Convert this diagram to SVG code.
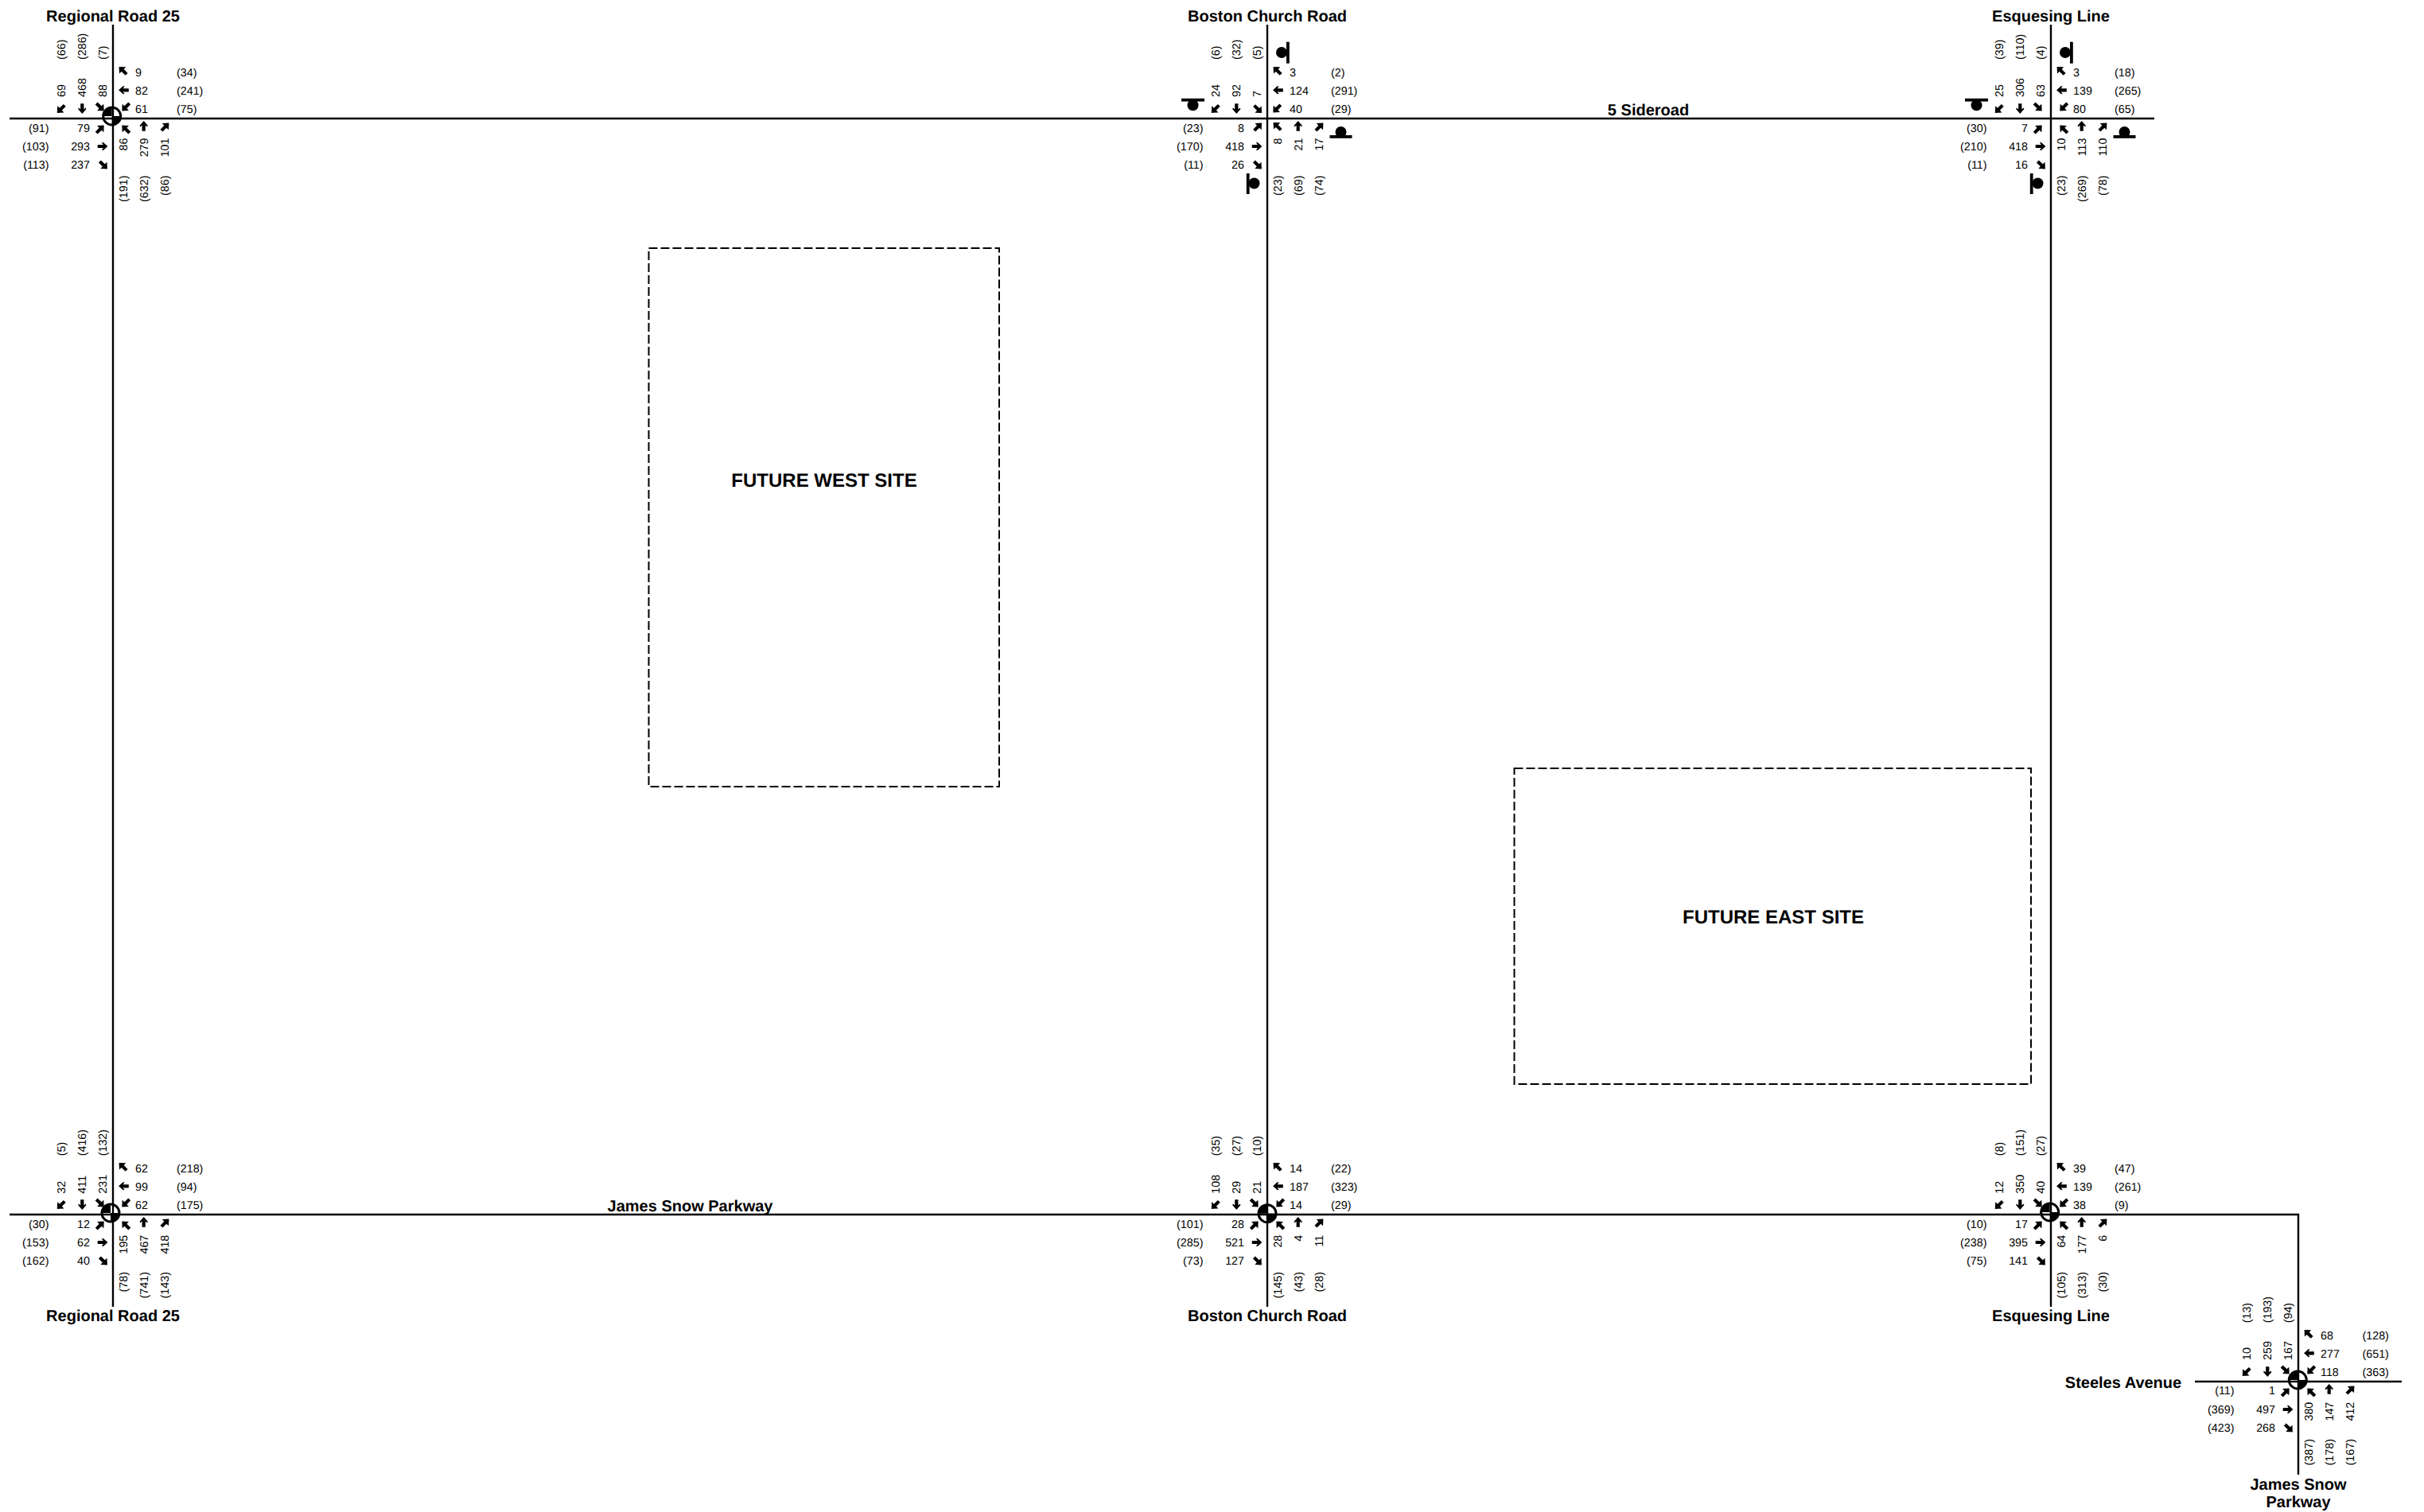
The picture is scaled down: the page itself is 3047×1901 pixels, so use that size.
<svg xmlns="http://www.w3.org/2000/svg" width="3047" height="1901" viewBox="0 0 3047 1901">
<style>
text{font-family:"Liberation Sans",Arial,sans-serif;fill:#000;text-rendering:geometricPrecision}
.t{font-size:14.3px;opacity:.999}
.e{text-anchor:end}
.b{font-size:20px;font-weight:bold;text-anchor:middle}
.h{font-size:24px;font-weight:bold;text-anchor:middle}
.road{stroke:#000;stroke-width:2.4;fill:none}
.site{stroke:#000;stroke-width:2;fill:none;stroke-dasharray:11 4}
.bk{fill:#000}
</style>
<defs>
<path id="up" d="M0,-6.4L5,-0.8L4.7,1.1L2.1,-0.8L2.1,6.3L-2.1,6.3L-2.1,-0.8L-4.7,1.1L-5,-0.8Z"/>
<path id="dg" d="M5.4,-5.4L5,3.2L2.3,0.7L-2.6,5.6L-5.5,2.7L-0.7,-2.3L-3.2,-5Z"/>
<use id="aN" href="#up"/>
<use id="aNE" href="#dg"/>
<use id="aE" href="#up" transform="rotate(90)"/>
<use id="aSE" href="#dg" transform="rotate(90)"/>
<use id="aS" href="#up" transform="rotate(180)"/>
<use id="aSW" href="#dg" transform="rotate(180)"/>
<use id="aW" href="#up" transform="rotate(270)"/>
<use id="aNW" href="#dg" transform="rotate(270)"/>
<g id="arrowsCommon">
<use href="#aNW" x="13" y="-59.7"/><use href="#aW" x="13.5" y="-35.7"/>
<use href="#aSW" x="-64.8" y="-12.5"/><use href="#aS" x="-38.7" y="-12.5"/>
<use href="#aE" x="-13" y="35"/><use href="#aSE" x="-12.5" y="58"/>
<use href="#aN" x="38.7" y="9.5"/><use href="#aNE" x="65" y="11"/>
</g>
<g id="arrowsWide">
<use href="#arrowsCommon"/>
<use href="#aSW" x="16.7" y="-15"/><use href="#aSE" x="-16.7" y="-15"/>
<use href="#aNE" x="-16.7" y="14"/><use href="#aNW" x="16.7" y="14"/>
</g>
<g id="arrowsTight">
<use href="#arrowsCommon"/>
<use href="#aSW" x="12.7" y="-13"/><use href="#aSE" x="-12.3" y="-12.3"/>
<use href="#aNE" x="-12.3" y="11"/><use href="#aNW" x="13" y="10.3"/>
</g>
<g id="signal">
<circle r="11" fill="none" stroke="#000" stroke-width="3"/>
<path class="bk" d="M0,0L-11,0A11,11 0 0 1 0,-11ZM0,0L11,0A11,11 0 0 1 0,11Z"/>
</g>
<g id="stops" class="bk">
<circle cx="18" cy="-83" r="7"/><rect x="24" y="-96.3" width="3.8" height="27"/>
<circle cx="-93.5" cy="-16.7" r="7"/><rect x="-108" y="-25.2" width="29" height="3.8"/>
<circle cx="92.5" cy="17" r="7"/><rect x="78.5" y="21" width="28" height="3.8"/>
<circle cx="-16.5" cy="81.5" r="7"/><rect x="-26.2" y="69" width="3.8" height="26"/>
</g>
</defs>
<rect width="3047" height="1901" fill="#fff"/>
<g id="connectors">
<path class="road" d="M142,31V1643M1593,31V1643M2578,31V1643M12,149H2708M12,1527H2889V1854M2759,1737H3019"/>
</g>
<g id="site-west"><rect class="site" x="815.5" y="312" width="440.5" height="677"/><text class="h" x="1036" y="611.5">FUTURE WEST SITE</text></g>
<g id="site-east"><rect class="site" x="1903.5" y="966" width="649.5" height="397"/><text class="h" x="2229" y="1160.5">FUTURE EAST SITE</text></g>
<g id="road-labels">
<text class="b" x="2072" y="145">5 Sideroad</text>
<text class="b" x="867.5" y="1523">James Snow Parkway</text>
<text class="b" x="2669" y="1744.5">Steeles Avenue</text>
</g>

<g id="int-rr25-5sr" transform="translate(142,149)">
<text class="b" x="0" y="-122">Regional Road 25</text>
<use href="#arrowsWide"/><use href="#signal" x="-1.3" y="-3"/>
<g class="t">
<text transform="translate(-60,-74) rotate(-90)">(66)</text><text transform="translate(-34,-74) rotate(-90)">(286)</text><text transform="translate(-8,-74) rotate(-90)">(7)</text>
<text transform="translate(-60,-27) rotate(-90)">69</text><text transform="translate(-34,-27) rotate(-90)">468</text><text transform="translate(-8,-27) rotate(-90)">88</text>
<text x="28" y="-53.5">9</text><text x="80" y="-53.5">(34)</text><text x="28" y="-30.5">82</text><text x="80" y="-30.5">(241)</text><text x="28" y="-7">61</text><text x="80" y="-7">(75)</text>
<text class="e" x="-80.5" y="16.7">(91)</text><text class="e" x="-29" y="16.7">79</text><text class="e" x="-80.5" y="39.7">(103)</text><text class="e" x="-29" y="39.7">293</text><text class="e" x="-80.5" y="63">(113)</text><text class="e" x="-29" y="63">237</text>
<text class="e" transform="translate(17.5,24.5) rotate(-90)">86</text><text class="e" transform="translate(43.5,24.5) rotate(-90)">279</text><text class="e" transform="translate(69.5,24.5) rotate(-90)">101</text>
<text class="e" transform="translate(17.5,71.5) rotate(-90)">(191)</text><text class="e" transform="translate(43.5,71.5) rotate(-90)">(632)</text><text class="e" transform="translate(69.5,71.5) rotate(-90)">(86)</text>
</g>
</g>

<g id="int-bc-5sr" transform="translate(1593,149)">
<text class="b" x="0" y="-122">Boston Church Road</text>
<use href="#arrowsTight"/><use href="#stops"/>
<g class="t">
<text transform="translate(-60,-74) rotate(-90)">(6)</text><text transform="translate(-34,-74) rotate(-90)">(32)</text><text transform="translate(-8,-74) rotate(-90)">(5)</text>
<text transform="translate(-60,-27) rotate(-90)">24</text><text transform="translate(-34,-27) rotate(-90)">92</text><text transform="translate(-8,-27) rotate(-90)">7</text>
<text x="28" y="-53.5">3</text><text x="80" y="-53.5">(2)</text><text x="28" y="-30.5">124</text><text x="80" y="-30.5">(291)</text><text x="28" y="-7">40</text><text x="80" y="-7">(29)</text>
<text class="e" x="-80.5" y="16.7">(23)</text><text class="e" x="-29" y="16.7">8</text><text class="e" x="-80.5" y="39.7">(170)</text><text class="e" x="-29" y="39.7">418</text><text class="e" x="-80.5" y="63">(11)</text><text class="e" x="-29" y="63">26</text>
<text class="e" transform="translate(17.5,24.5) rotate(-90)">8</text><text class="e" transform="translate(43.5,24.5) rotate(-90)">21</text><text class="e" transform="translate(69.5,24.5) rotate(-90)">17</text>
<text class="e" transform="translate(17.5,71.5) rotate(-90)">(23)</text><text class="e" transform="translate(43.5,71.5) rotate(-90)">(69)</text><text class="e" transform="translate(69.5,71.5) rotate(-90)">(74)</text>
</g>
</g>

<g id="int-esq-5sr" transform="translate(2578,149)">
<text class="b" x="0" y="-122">Esquesing Line</text>
<use href="#arrowsWide"/><use href="#stops"/>
<g class="t">
<text transform="translate(-60,-74) rotate(-90)">(39)</text><text transform="translate(-34,-74) rotate(-90)">(110)</text><text transform="translate(-8,-74) rotate(-90)">(4)</text>
<text transform="translate(-60,-27) rotate(-90)">25</text><text transform="translate(-34,-27) rotate(-90)">306</text><text transform="translate(-8,-27) rotate(-90)">63</text>
<text x="28" y="-53.5">3</text><text x="80" y="-53.5">(18)</text><text x="28" y="-30.5">139</text><text x="80" y="-30.5">(265)</text><text x="28" y="-7">80</text><text x="80" y="-7">(65)</text>
<text class="e" x="-80.5" y="16.7">(30)</text><text class="e" x="-29" y="16.7">7</text><text class="e" x="-80.5" y="39.7">(210)</text><text class="e" x="-29" y="39.7">418</text><text class="e" x="-80.5" y="63">(11)</text><text class="e" x="-29" y="63">16</text>
<text class="e" transform="translate(17.5,24.5) rotate(-90)">10</text><text class="e" transform="translate(43.5,24.5) rotate(-90)">113</text><text class="e" transform="translate(69.5,24.5) rotate(-90)">110</text>
<text class="e" transform="translate(17.5,71.5) rotate(-90)">(23)</text><text class="e" transform="translate(43.5,71.5) rotate(-90)">(269)</text><text class="e" transform="translate(69.5,71.5) rotate(-90)">(78)</text>
</g>
</g>

<g id="int-rr25-jsp" transform="translate(142,1527)">
<text class="b" x="0" y="134">Regional Road 25</text>
<use href="#arrowsWide"/><use href="#signal" x="-3" y="-2"/>
<g class="t">
<text transform="translate(-60,-73.7) rotate(-90)">(5)</text><text transform="translate(-34,-73.7) rotate(-90)">(416)</text><text transform="translate(-8,-73.7) rotate(-90)">(132)</text>
<text transform="translate(-60,-26.3) rotate(-90)">32</text><text transform="translate(-34,-26.3) rotate(-90)">411</text><text transform="translate(-8,-26.3) rotate(-90)">231</text>
<text x="28" y="-53.5">62</text><text x="80" y="-53.5">(218)</text><text x="28" y="-30.5">99</text><text x="80" y="-30.5">(94)</text><text x="28" y="-7">62</text><text x="80" y="-7">(175)</text>
<text class="e" x="-80.5" y="16.7">(30)</text><text class="e" x="-29" y="16.7">12</text><text class="e" x="-80.5" y="39.7">(153)</text><text class="e" x="-29" y="39.7">62</text><text class="e" x="-80.5" y="63">(162)</text><text class="e" x="-29" y="63">40</text>
<text class="e" transform="translate(17.5,25.7) rotate(-90)">195</text><text class="e" transform="translate(43.5,25.7) rotate(-90)">467</text><text class="e" transform="translate(69.5,25.7) rotate(-90)">418</text>
<text class="e" transform="translate(17.5,72) rotate(-90)">(78)</text><text class="e" transform="translate(43.5,72) rotate(-90)">(741)</text><text class="e" transform="translate(69.5,72) rotate(-90)">(143)</text>
</g>
</g>

<g id="int-bc-jsp" transform="translate(1593,1527)">
<text class="b" x="0" y="134">Boston Church Road</text>
<use href="#arrowsWide"/><use href="#signal" x="0" y="-1.3"/>
<g class="t">
<text transform="translate(-60,-73.7) rotate(-90)">(35)</text><text transform="translate(-34,-73.7) rotate(-90)">(27)</text><text transform="translate(-8,-73.7) rotate(-90)">(10)</text>
<text transform="translate(-60,-26.3) rotate(-90)">108</text><text transform="translate(-34,-26.3) rotate(-90)">29</text><text transform="translate(-8,-26.3) rotate(-90)">21</text>
<text x="28" y="-53.5">14</text><text x="80" y="-53.5">(22)</text><text x="28" y="-30.5">187</text><text x="80" y="-30.5">(323)</text><text x="28" y="-7">14</text><text x="80" y="-7">(29)</text>
<text class="e" x="-80.5" y="16.7">(101)</text><text class="e" x="-29" y="16.7">28</text><text class="e" x="-80.5" y="39.7">(285)</text><text class="e" x="-29" y="39.7">521</text><text class="e" x="-80.5" y="63">(73)</text><text class="e" x="-29" y="63">127</text>
<text class="e" transform="translate(17.5,25.7) rotate(-90)">28</text><text class="e" transform="translate(43.5,25.7) rotate(-90)">4</text><text class="e" transform="translate(69.5,25.7) rotate(-90)">11</text>
<text class="e" transform="translate(17.5,72) rotate(-90)">(145)</text><text class="e" transform="translate(43.5,72) rotate(-90)">(43)</text><text class="e" transform="translate(69.5,72) rotate(-90)">(28)</text>
</g>
</g>

<g id="int-esq-jsp" transform="translate(2578,1527)">
<text class="b" x="0" y="134">Esquesing Line</text>
<use href="#arrowsWide"/><use href="#signal" x="-1.3" y="-3"/>
<g class="t">
<text transform="translate(-60,-73.7) rotate(-90)">(8)</text><text transform="translate(-34,-73.7) rotate(-90)">(151)</text><text transform="translate(-8,-73.7) rotate(-90)">(27)</text>
<text transform="translate(-60,-26.3) rotate(-90)">12</text><text transform="translate(-34,-26.3) rotate(-90)">350</text><text transform="translate(-8,-26.3) rotate(-90)">40</text>
<text x="28" y="-53.5">39</text><text x="80" y="-53.5">(47)</text><text x="28" y="-30.5">139</text><text x="80" y="-30.5">(261)</text><text x="28" y="-7">38</text><text x="80" y="-7">(9)</text>
<text class="e" x="-80.5" y="16.7">(10)</text><text class="e" x="-29" y="16.7">17</text><text class="e" x="-80.5" y="39.7">(238)</text><text class="e" x="-29" y="39.7">395</text><text class="e" x="-80.5" y="63">(75)</text><text class="e" x="-29" y="63">141</text>
<text class="e" transform="translate(17.5,25.7) rotate(-90)">64</text><text class="e" transform="translate(43.5,25.7) rotate(-90)">177</text><text class="e" transform="translate(69.5,25.7) rotate(-90)">6</text>
<text class="e" transform="translate(17.5,72) rotate(-90)">(105)</text><text class="e" transform="translate(43.5,72) rotate(-90)">(313)</text><text class="e" transform="translate(69.5,72) rotate(-90)">(30)</text>
</g>
</g>

<g id="int-jsp-steeles" transform="translate(2889,1737)">
<text class="b" x="0" y="135.5">James Snow</text><text class="b" x="0" y="158">Parkway</text>
<use href="#arrowsWide"/><use href="#signal" x="-0.7" y="-2"/>
<g class="t">
<text transform="translate(-60,-73.7) rotate(-90)">(13)</text><text transform="translate(-34,-73.7) rotate(-90)">(193)</text><text transform="translate(-8,-73.7) rotate(-90)">(94)</text>
<text transform="translate(-60,-27) rotate(-90)">10</text><text transform="translate(-34,-27) rotate(-90)">259</text><text transform="translate(-8,-27) rotate(-90)">167</text>
<text x="28" y="-53.5">68</text><text x="80.5" y="-53.5">(128)</text><text x="28" y="-30.5">277</text><text x="80.5" y="-30.5">(651)</text><text x="28" y="-7">118</text><text x="80.5" y="-7">(363)</text>
<text class="e" x="-80.5" y="16.2">(11)</text><text class="e" x="-29" y="16.2">1</text><text class="e" x="-80.5" y="39.7">(369)</text><text class="e" x="-29" y="39.7">497</text><text class="e" x="-80.5" y="63">(423)</text><text class="e" x="-29" y="63">268</text>
<text class="e" transform="translate(17.5,25.7) rotate(-90)">380</text><text class="e" transform="translate(43.5,25.7) rotate(-90)">147</text><text class="e" transform="translate(69.5,25.7) rotate(-90)">412</text>
<text class="e" transform="translate(17.5,72) rotate(-90)">(387)</text><text class="e" transform="translate(43.5,72) rotate(-90)">(178)</text><text class="e" transform="translate(69.5,72) rotate(-90)">(167)</text>
</g>
</g>
</svg>
